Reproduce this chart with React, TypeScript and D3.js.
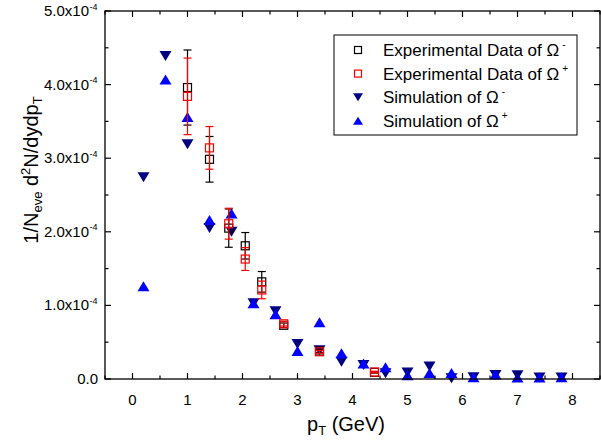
import React from "react";
import * as d3 from "d3";

const W = 601, H = 440;
const M = { left: 105, right: 600, top: 11, bottom: 379 };

// Experimental data (units 1e-4)
const expX = [1.0, 1.4, 1.75, 2.05, 2.35, 2.75, 3.4, 4.4];
const expMinusY = [3.96, 2.985, 2.05, 1.81, 1.32, 0.73, 0.38, 0.09];
const expMinusErr = [0.51, 0.31, 0.26, 0.18, 0.14, 0.03, 0.02, 0.01];
const expPlusY = [3.84, 3.14, 2.11, 1.63, 1.21, 0.75, 0.37, 0.095];
const expPlusErr = [0.52, 0.29, 0.21, 0.155, 0.12, 0.03, 0.02, 0.01];

// Simulation (units 1e-4)
const simX = [0.2, 0.6, 1.0, 1.4, 1.8, 2.2, 2.6, 3.0, 3.4, 3.8, 4.2, 4.6, 5.0, 5.4, 5.8, 6.2, 6.6, 7.0, 7.4, 7.8];
const simMinusY = [2.74, 4.39, 3.19, 2.05, 2.0, 1.03, 0.92, 0.475, 0.39, 0.235, 0.19, 0.077, 0.09, 0.17, 0.01, 0.025, 0.055, 0.05, 0.02, 0.02];
const simPlusY = [1.26, 4.07, 3.56, 2.16, 2.25, 1.03, 0.88, 0.38, 0.77, 0.35, 0.21, 0.16, 0.05, 0.08, 0.08, 0.025, 0.06, 0.02, 0.02, 0.025];

const xTicks = [0, 1, 2, 3, 4, 5, 6, 7, 8];
const yTicks = [0, 1, 2, 3, 4, 5];
const yTickLabels = ["0.0", "1.0x10", "2.0x10", "3.0x10", "4.0x10", "5.0x10"];

const legendLabels = ["Experimental Data of Ω", "Experimental Data of Ω", "Simulation of Ω", "Simulation of Ω"];
const legendSups = ["-", "+", "-", "+"];

const FONT = "'Liberation Sans', Arial, sans-serif";
const NAVY = "#000080";
const BLUE = "#0000FF";
const RED = "#FF0000";

const x = d3.scaleLinear().domain([-0.5, 8.5]).range([M.left, M.right]);
const y = d3.scaleLinear().domain([0, 5]).range([M.bottom, M.top]);

const upTri = "M0,-5L6,5L-6,5Z";
const downTri = "M0,5L6,-5L-6,-5Z";

export default function App() {
  const minorX = d3.range(-0.5, 8.51, 0.5);
  const minorY = d3.range(0, 5.01, 0.5);
  const cap = 4;
  return (
    <svg width={W} height={H} style={{ position: "absolute", left: 0, top: 0, background: "#fff" }} fontFamily={FONT}>
      {/* simulation */}
      {simX.map((d, i) => (
        <path key={"sm" + i} d={downTri} transform={`translate(${x(d)},${y(simMinusY[i])})`} fill={NAVY} />
      ))}
      {simX.map((d, i) => (
        <path key={"sp" + i} d={upTri} transform={`translate(${x(d)},${y(simPlusY[i])})`} fill={BLUE} />
      ))}
      {/* experimental minus */}
      {expX.map((d, i) => {
        const cx = x(d), yt = y(expMinusY[i] + expMinusErr[i]), yb = y(expMinusY[i] - expMinusErr[i]);
        return (
          <g key={"em" + i} stroke="#000" strokeWidth={1.2} fill="none">
            <line x1={cx} x2={cx} y1={yt} y2={yb} />
            <line x1={cx - cap} x2={cx + cap} y1={yt} y2={yt} />
            <line x1={cx - cap} x2={cx + cap} y1={yb} y2={yb} />
            <rect x={cx - 4} y={y(expMinusY[i]) - 4} width={8} height={8} />
          </g>
        );
      })}
      {expX.map((d, i) => {
        const cx = x(d), yt = y(expPlusY[i] + expPlusErr[i]), yb = y(expPlusY[i] - expPlusErr[i]);
        return (
          <g key={"ep" + i} stroke={RED} strokeWidth={1.2} fill="none">
            <line x1={cx} x2={cx} y1={yt} y2={yb} />
            <line x1={cx - cap} x2={cx + cap} y1={yt} y2={yt} />
            <line x1={cx - cap} x2={cx + cap} y1={yb} y2={yb} />
            <rect x={cx - 4} y={y(expPlusY[i]) - 4} width={8} height={8} />
          </g>
        );
      })}
      {/* frame */}
      <rect x={M.left} y={M.top} width={M.right - M.left} height={M.bottom - M.top} fill="none" stroke="#000" strokeWidth={1.3} />
      {/* ticks */}
      {minorX.map((t, i) => {
        const major = Math.abs(t - Math.round(t)) < 1e-6 && t >= 0 && t <= 8;
        const len = major ? 6 : 3.5;
        return (
          <g key={"xt" + i} stroke="#000" strokeWidth={1.2}>
            <line x1={x(t)} x2={x(t)} y1={M.bottom} y2={M.bottom - len} />
            <line x1={x(t)} x2={x(t)} y1={M.top} y2={M.top + len} />
          </g>
        );
      })}
      {minorY.map((t, i) => {
        const major = Math.abs(t - Math.round(t)) < 1e-6;
        const len = major ? 6 : 3.5;
        return (
          <g key={"yt" + i} stroke="#000" strokeWidth={1.2}>
            <line x1={M.left} x2={M.left + len} y1={y(t)} y2={y(t)} />
            <line x1={M.right} x2={M.right - len} y1={y(t)} y2={y(t)} />
          </g>
        );
      })}
      {xTicks.map((t) => (
        <text key={"xl" + t} x={x(t)} y={M.bottom + 26} textAnchor="middle" fontSize={15}>{t}</text>
      ))}
      {yTicks.map((t, i) => (
        <text key={"yl" + t} x={t === 0 ? 98 : 89} y={y(t) + 5} textAnchor="end" fontSize={15}>
          {yTickLabels[i]}
        </text>
      ))}
      {yTicks.filter((t) => t > 0).map((t) => (
        <text key={"ys" + t} x={89.5} y={y(t) - 1.5} fontSize={9}>-4</text>
      ))}
      {/* axis titles */}
      <text x={346} y={431} fontSize={20} textAnchor="middle">
        p<tspan fontSize={13} dy={4}>T</tspan><tspan dy={-4}> (GeV)</tspan>
      </text>
      <text transform={`translate(38,170) rotate(-90)`} fontSize={20} textAnchor="middle">
        1/N<tspan fontSize={13} dy={4}>eve</tspan><tspan dy={-4}> d</tspan><tspan fontSize={13} dy={-8}>2</tspan><tspan dy={8}>N/dydp</tspan><tspan fontSize={13} dy={4}>T</tspan>
      </text>
      {/* legend */}
      <rect x={334} y={35} width={243} height={100} fill="#fff" stroke="#000" strokeWidth={1} />
      {legendLabels.map((lab, i) => {
        const ly = 50 + i * 23.6;
        const sx = 358;
        let sym;
        if (i === 0) sym = <rect x={sx - 3.5} y={ly - 3.5} width={7} height={7} fill="none" stroke="#000" strokeWidth={1.2} />;
        else if (i === 1) sym = <rect x={sx - 3.5} y={ly - 3.5} width={7} height={7} fill="none" stroke={RED} strokeWidth={1.2} />;
        else if (i === 2) sym = <path d="M0,4L5,-4L-5,-4Z" transform={`translate(${sx},${ly})`} fill={NAVY} />;
        else sym = <path d="M0,-4L5,4L-5,4Z" transform={`translate(${sx},${ly})`} fill={BLUE} />;
        return (
          <g key={"lg" + i}>
            {sym}
            <text x={383} y={ly + 6} fontSize={17}>
              {lab}
              <tspan fontSize={10} dx={3} dy={-8}>{legendSups[i]}</tspan>
            </text>
          </g>
        );
      })}
    </svg>
  );
}
